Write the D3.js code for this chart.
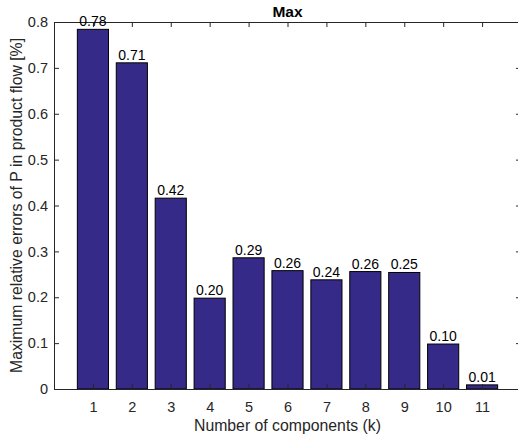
<!DOCTYPE html>
<html>
<head>
<meta charset="utf-8">
<script src="https://cdn.jsdelivr.net/npm/d3@7"></script>
<style>
  body { margin: 0; background: #fff; }
  svg { font-family: "Liberation Sans", Arial, sans-serif; }
  .tick text { fill: #262626; font-size: 14.5px; }
  .domain, .tick line { stroke: #262626; }
</style>
</head>
<body>
<div id="chart"></div>
<script>
const components = [1, 2, 3, 4, 5, 6, 7, 8, 9, 10, 11];
const maxErrors = [0.784, 0.711, 0.416, 0.198, 0.286, 0.258, 0.238, 0.256, 0.254, 0.098, 0.009];
const yTicks = [0, 0.1, 0.2, 0.3, 0.4, 0.5, 0.6, 0.7, 0.8];

const W = 518, H = 440;
const margin = { top: 22, right: -3, bottom: 51, left: 54 };
const width = W - margin.left - margin.right;
const height = H - margin.top - margin.bottom;

const svg = d3.select("#chart")
    .append("svg")
    .attr("width", W)
    .attr("height", H)
    .append("g")
    .attr("transform", `translate(${margin.left},${margin.top})`);

const x = d3.scaleLinear().domain([0, 12]).range([0, width]);
const y = d3.scaleLinear().domain([0, 0.8]).range([height, 0]);
const barW = x(0.8) - x(0);

// bars
svg.selectAll(".bar")
    .data(components)
    .enter()
    .append("rect")
    .attr("class", "bar")
    .attr("x", (d, i) => x(d) - barW / 2)
    .attr("y", (d, i) => y(maxErrors[i]))
    .attr("width", barW)
    .attr("height", (d, i) => height - y(maxErrors[i]))
    .attr("fill", "#352A87")
    .attr("stroke", "#000")
    .attr("stroke-width", 1);

// axes, ticks pointing inward on all sides
svg.append("g")
    .attr("transform", `translate(0,${height})`)
    .call(d3.axisBottom(x).tickValues(components).tickSize(-5).tickSizeOuter(0).tickPadding(13));

svg.append("g")
    .call(d3.axisTop(x).tickValues(components).tickSize(-5).tickSizeOuter(0).tickFormat(""));

svg.append("g")
    .call(d3.axisLeft(y).tickValues(yTicks).tickSize(-5).tickSizeOuter(0).tickPadding(6)
        .tickFormat(d => d === 0 ? "0" : d3.format(".1f")(d)));

svg.append("g")
    .attr("transform", `translate(${width},0)`)
    .call(d3.axisRight(y).tickValues(yTicks).tickSize(-5).tickSizeOuter(0).tickFormat(""));

// value labels
svg.selectAll(".val")
    .data(components)
    .enter()
    .append("text")
    .attr("class", "val")
    .attr("x", d => x(d))
    .attr("y", (d, i) => y(maxErrors[i]) - 3)
    .attr("text-anchor", "middle")
    .style("font-size", "14px")
    .style("fill", "#000")
    .text((d, i) => maxErrors[i].toFixed(2));

// title
svg.append("text")
    .attr("x", width / 2)
    .attr("y", -5)
    .attr("text-anchor", "middle")
    .style("font-size", "15.5px")
    .style("font-weight", "bold")
    .text("Max");

svg.append("text")
    .attr("x", width / 2)
    .attr("y", height + 42)
    .attr("text-anchor", "middle")
    .style("font-size", "15.8px")
    .style("fill", "#262626")
    .text("Number of components (k)");

svg.append("text")
    .attr("transform", "rotate(-90)")
    .attr("x", -height / 2)
    .attr("y", -32)
    .attr("text-anchor", "middle")
    .style("font-size", "15.8px")
    .style("fill", "#262626")
    .text("Maximum relative errors of P in product flow [%]");
</script>
</body>
</html>
